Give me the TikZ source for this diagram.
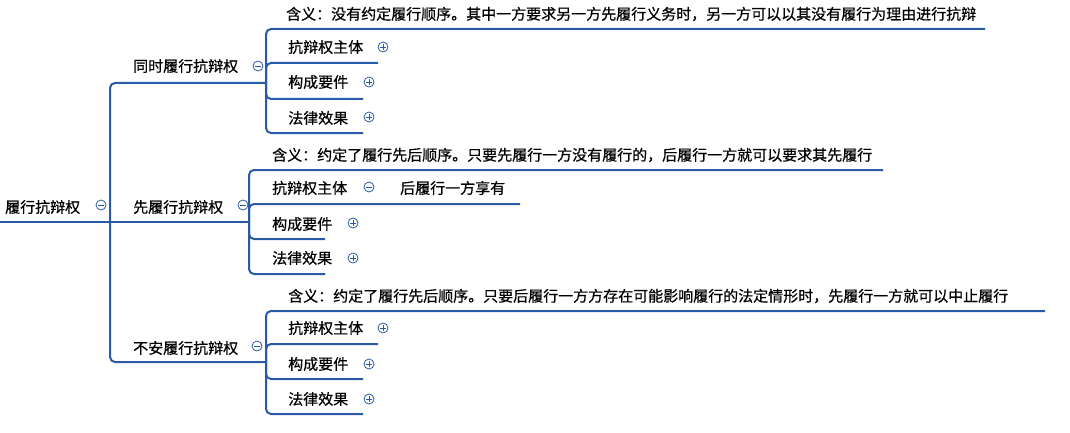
\documentclass[tikz,border=0pt]{standalone}
\usepackage{fontspec}
\usepackage{tikz}
\newfontfamily\cjk[FakeBold=0.6]{Noto Sans CJK SC}
\definecolor{linkblue}{RGB}{41,90,165}

\tikzset{
  txt/.style={font=\cjk\fontsize{15pt}{15pt}\selectfont, inner sep=0pt, anchor=west},
  link/.style={draw=linkblue, line width=2pt, rounded corners=5pt},
  fold/.style={circle, draw=linkblue, line width=0.8pt, minimum size=10pt, inner sep=0pt},
  collapse/.style={fold, path picture={
    \draw[line width=0.7pt] ([xshift=-2.6pt]path picture bounding box.center) -- ([xshift=2.6pt]path picture bounding box.center);}},
  expand/.style={fold, path picture={
    \draw[line width=0.7pt] ([xshift=-2.6pt]path picture bounding box.center) -- ([xshift=2.6pt]path picture bounding box.center);
    \draw[line width=0.7pt] ([yshift=-2.6pt]path picture bounding box.center) -- ([yshift=2.6pt]path picture bounding box.center);}}
}

\begin{document}
\begin{tikzpicture}[x=1pt,y=-1pt]
\useasboundingbox (0,0) rectangle (1070,433);

% root
\node[txt] (root) at (5,207) {履行抗辩权};
\node[collapse] (rootfold) at (101,205) {};
\coordinate (trunk) at (110,222);

% first level
\node[txt] (g1) at (133,66) {同时履行抗辩权};
\node[collapse] (g1fold) at (258,66) {};
\node[txt] (g2) at (133,207) {先履行抗辩权};
\node[collapse] (g2fold) at (243,205) {};
\node[txt] (g3) at (133,348) {不安履行抗辩权};
\node[collapse] (g3fold) at (257,346) {};

\coordinate (g1in) at (266,83);
\coordinate (g2in) at (249,222);
\coordinate (g3in) at (266,362);

\draw[link] (0,222) -- (trunk) -- (g2in);
\draw[link] (trunk) |- (g1in);
\draw[link] (trunk) |- (g3in);

% 同时履行抗辩权
\node[txt] (g1m) at (286,14) {含义：没有约定履行顺序。其中一方要求另一方先履行义务时，另一方可以以其没有履行为理由进行抗辩};
\node[txt] (g1a) at (288,47) {抗辩权主体};
\node[expand] (g1afold) at (383,47) {};
\node[txt] (g1b) at (288,82) {构成要件};
\node[expand] (g1bfold) at (369,82) {};
\node[txt] (g1c) at (288,118) {法律效果};
\node[expand] (g1cfold) at (369,117) {};
\coordinate (g1mend) at (985,29);
\coordinate (g1aend) at (378,63);
\coordinate (g1bend) at (363,99);
\coordinate (g1cend) at (363,133);
\draw[link] (g1in) |- (g1mend);
\draw[link] (g1in) |- (g1aend);
\draw[link] (g1in) |- (g1bend);
\draw[link] (g1in) |- (g1cend);

% 先履行抗辩权
\node[txt] (g2m) at (272,155) {含义：约定了履行先后顺序。只要先履行一方没有履行的，后履行一方就可以要求其先履行};
\node[txt] (g2a) at (272,188) {抗辩权主体};
\node[collapse] (g2afold) at (369,187) {};
\node[txt] (g2an) at (400,188) {后履行一方享有};
\node[txt] (g2b) at (272,224) {构成要件};
\node[expand] (g2bfold) at (353,223) {};
\node[txt] (g2c) at (272,258) {法律效果};
\node[expand] (g2cfold) at (353,258) {};
\coordinate (g2mend) at (883,170);
\coordinate (g2aend) at (520,204);
\coordinate (g2bend) at (325,239);
\coordinate (g2cend) at (325,274);
\draw[link] (g2in) |- (g2mend);
\draw[link] (g2in) |- (g2aend);
\draw[link] (g2in) |- (g2bend);
\draw[link] (g2in) |- (g2cend);

% 不安履行抗辩权
\node[txt] (g3m) at (288,296) {含义：约定了履行先后顺序。只要后履行一方方存在可能影响履行的法定情形时，先履行一方就可以中止履行};
\node[txt] (g3a) at (288,328) {抗辩权主体};
\node[expand] (g3afold) at (383,328) {};
\node[txt] (g3b) at (288,364) {构成要件};
\node[expand] (g3bfold) at (369,364) {};
\node[txt] (g3c) at (288,399) {法律效果};
\node[expand] (g3cfold) at (369,399) {};
\coordinate (g3mend) at (1045,311);
\coordinate (g3aend) at (378,344);
\coordinate (g3bend) at (363,379);
\coordinate (g3cend) at (363,414);
\draw[link] (g3in) |- (g3mend);
\draw[link] (g3in) |- (g3aend);
\draw[link] (g3in) |- (g3bend);
\draw[link] (g3in) |- (g3cend);

\end{tikzpicture}
\end{document}
